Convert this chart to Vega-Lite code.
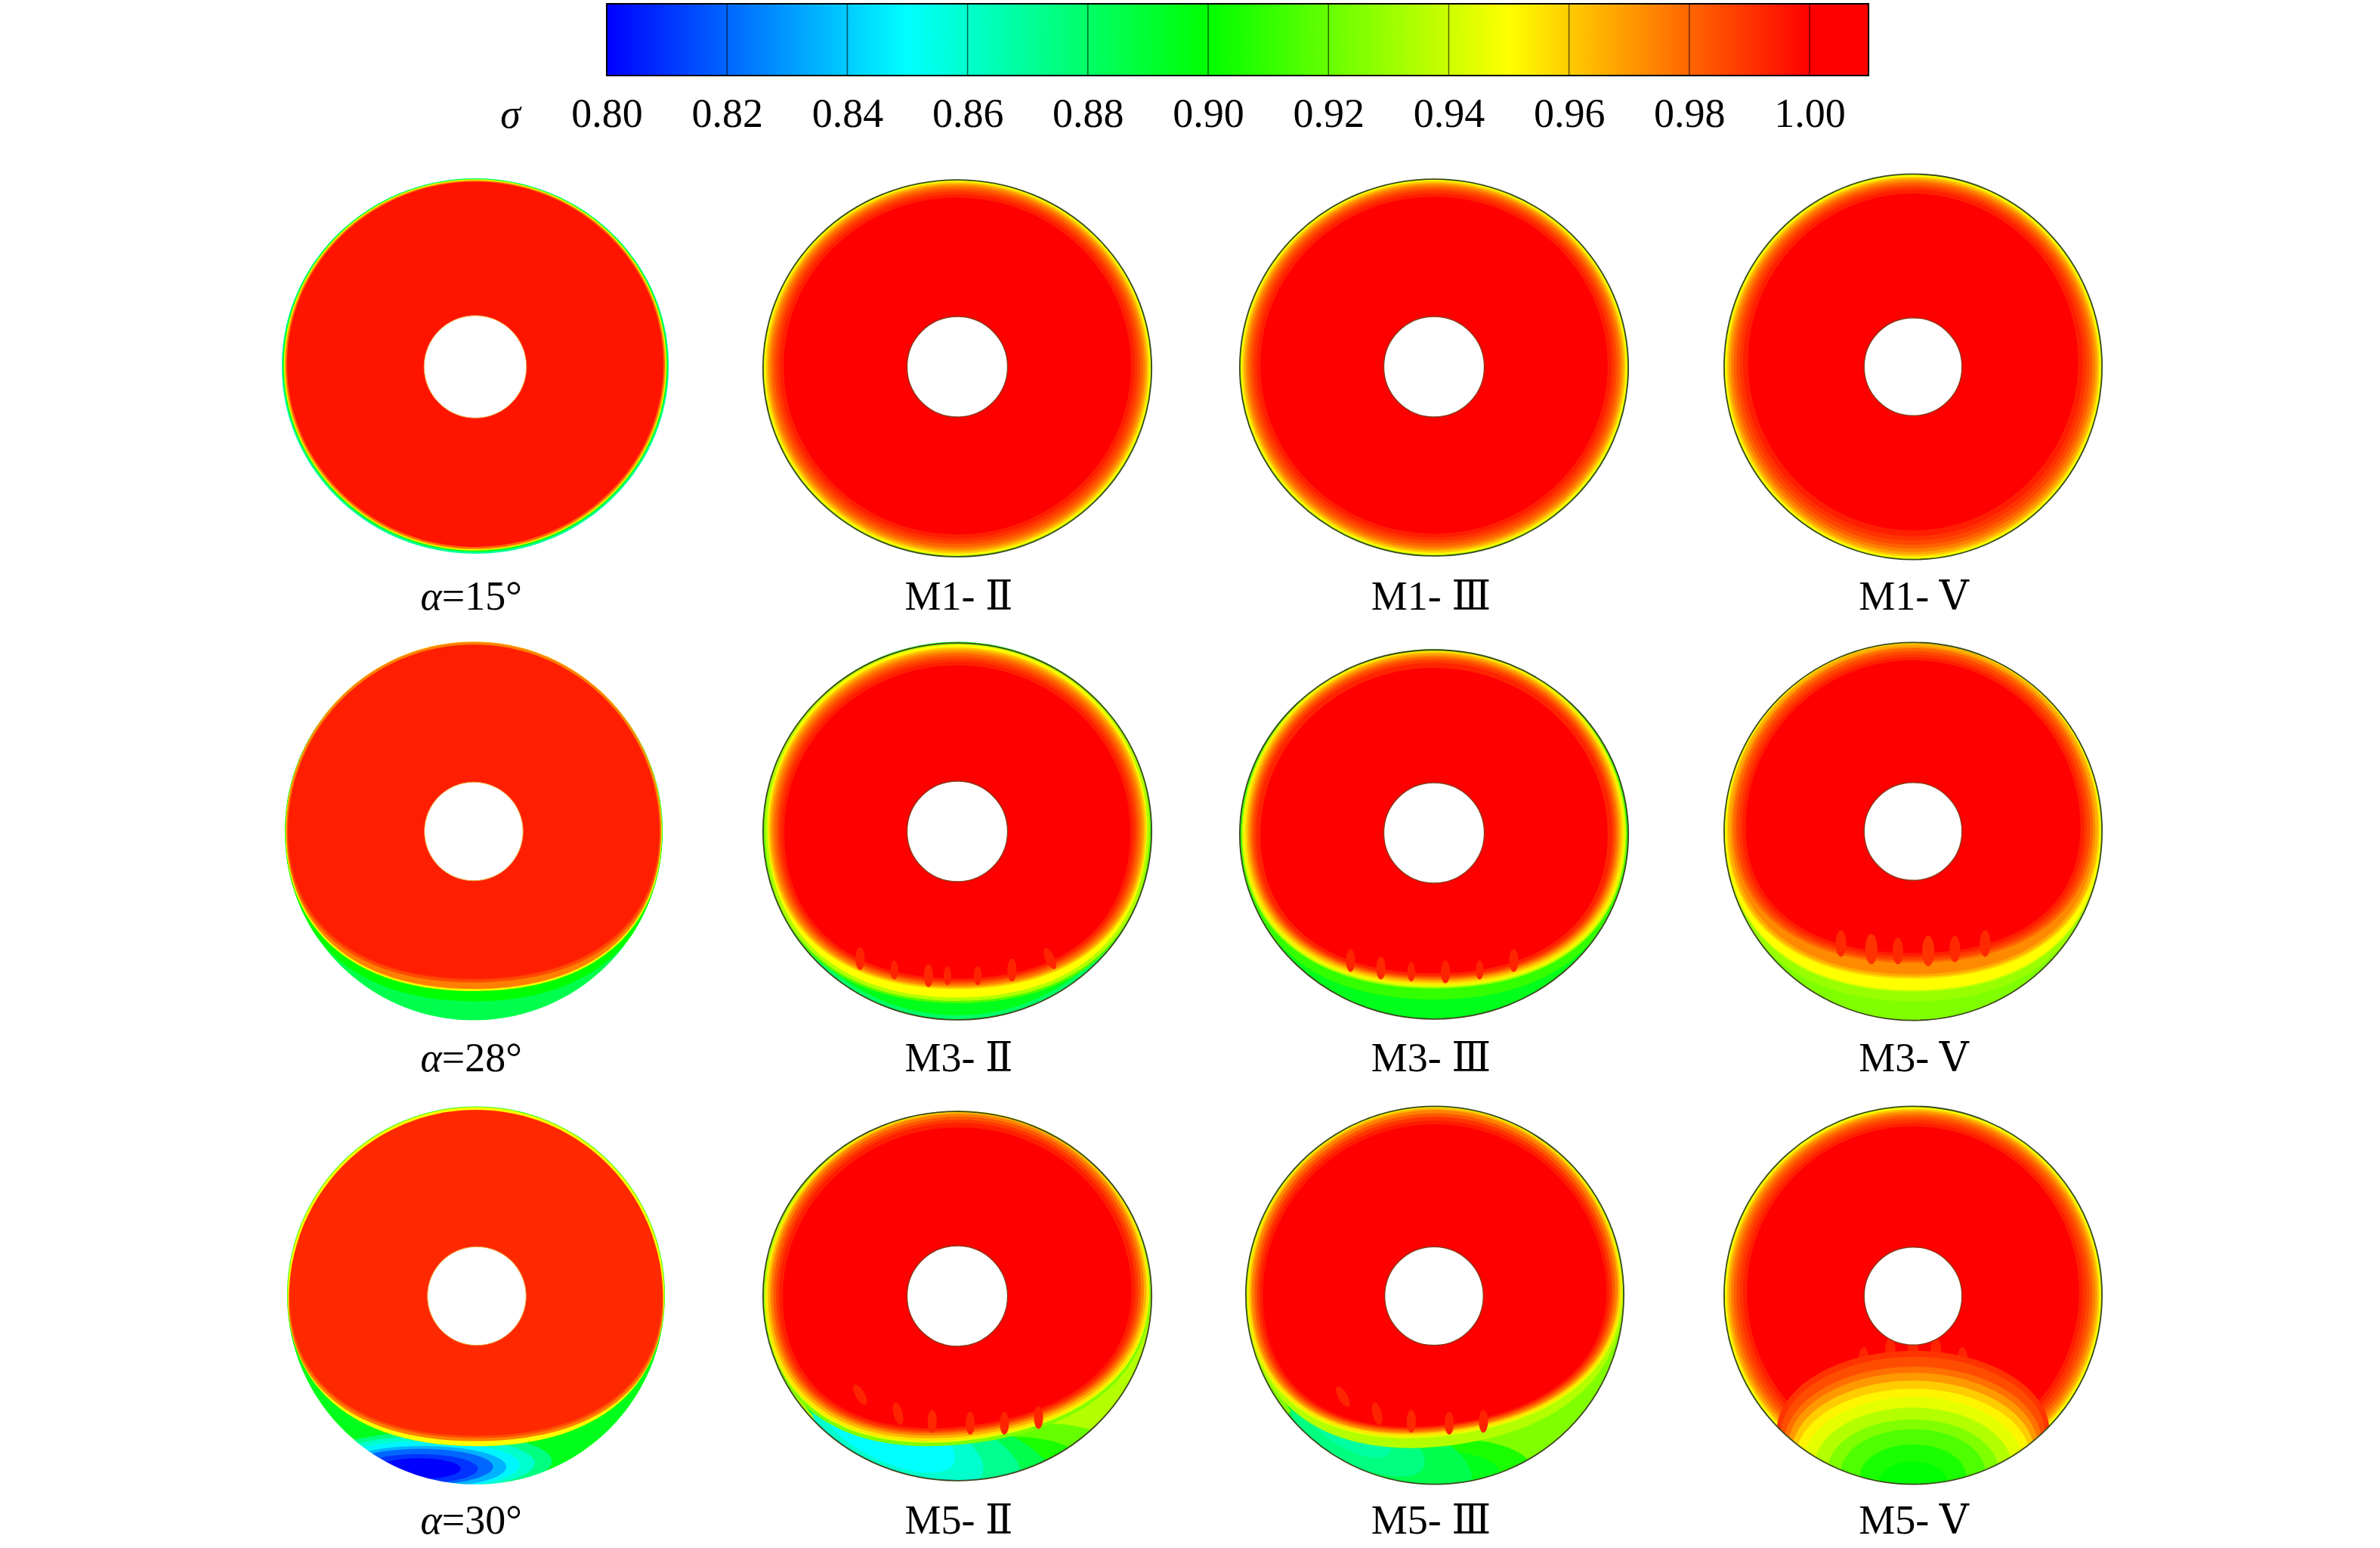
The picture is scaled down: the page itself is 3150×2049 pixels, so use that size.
{
"$schema":"https://vega.github.io/schema/vega-lite/v6.json",
"padding":{"left":313,"top":4,"right":301,"bottom":2},
"background":"white",
"config":{"view":{"stroke":null}},
"spacing":78,
"bounds":"flush",
"datasets":{
"bar":[{"a":0.8,"b":1.0098}],
"ticks":[{"v":0.82},{"v":0.84},{"v":0.86},{"v":0.88},{"v":0.9},{"v":0.92},{"v":0.94},{"v":0.96},{"v":0.98},{"v":1.0}],
"sigma":[
{"p":1,"k":"c","x":-0.4,"y":0.4,"r":102,"q":"c","s":0.87},
{"p":1,"k":"c","x":-0.4,"y":0.8,"r":101.3,"q":"c","s":0.9},
{"p":1,"k":"c","x":-0.4,"y":1,"r":100.9,"q":"c","s":0.945},
{"p":1,"k":"c","x":-0.4,"y":1,"r":100.4,"q":"c","s":0.965},
{"p":1,"k":"c","x":-0.4,"y":1.1,"r":99.9,"q":"c","s":0.98},
{"p":1,"k":"c","x":-0.4,"y":1.3,"r":99.2,"q":"c","s":0.996},
{"p":1,"k":"j","x":-0.4,"y":0,"r":27,"q":"b"},
{"p":1,"k":"g","x":-18,"y":-121.6,"label":"=15°"},

{"p":2,"k":"c","x":1.2,"y":-0.8,"r":102.4,"q":"c","s":0.935},
{"p":2,"k":"c","x":1.2,"y":-0.6,"r":101.8,"q":"c","s":0.95},
{"p":2,"k":"c","x":1.2,"y":-0.5,"r":101,"q":"c","s":0.96},
{"p":2,"k":"c","x":1.2,"y":-0.4,"r":100,"q":"c","s":0.968},
{"p":2,"k":"c","x":1.2,"y":-0.3,"r":99,"q":"c","s":0.975},
{"p":2,"k":"c","x":1.2,"y":-0.2,"r":97.8,"q":"c","s":0.981},
{"p":2,"k":"c","x":1.2,"y":0,"r":96.4,"q":"c","s":0.986},
{"p":2,"k":"c","x":1.2,"y":0.2,"r":95,"q":"c","s":0.99},
{"p":2,"k":"c","x":1.2,"y":0.3,"r":93.5,"q":"c","s":0.994},
{"p":2,"k":"c","x":1.2,"y":0.4,"r":91.5,"q":"c","s":1.0},
{"p":2,"k":"o","x":1.2,"y":-0.8,"r":102.4,"q":"c"},
{"p":2,"k":"h","x":1.2,"y":0,"r":26.5,"q":"b"},
{"p":2,"k":"t","x":2,"y":-121.6,"label":"M1- Ⅱ"},

{"p":3,"k":"c","x":0,"y":-0.4,"r":102.4,"q":"c","s":0.935},
{"p":3,"k":"c","x":0,"y":-0.2,"r":101.8,"q":"c","s":0.95},
{"p":3,"k":"c","x":0,"y":-0.1,"r":101,"q":"c","s":0.96},
{"p":3,"k":"c","x":0,"y":0,"r":100,"q":"c","s":0.968},
{"p":3,"k":"c","x":0,"y":0.1,"r":99,"q":"c","s":0.975},
{"p":3,"k":"c","x":0,"y":0.2,"r":97.8,"q":"c","s":0.981},
{"p":3,"k":"c","x":0,"y":0.4,"r":96.4,"q":"c","s":0.986},
{"p":3,"k":"c","x":0,"y":0.6,"r":95,"q":"c","s":0.99},
{"p":3,"k":"c","x":0,"y":0.7,"r":93.5,"q":"c","s":0.994},
{"p":3,"k":"c","x":0,"y":0.8,"r":91.5,"q":"c","s":1.0},
{"p":3,"k":"o","x":0,"y":-0.4,"r":102.4,"q":"c"},
{"p":3,"k":"h","x":0,"y":0,"r":26.5,"q":"b"},
{"p":3,"k":"t","x":-1.6,"y":-121.6,"label":"M1- Ⅲ"},

{"p":4,"k":"c","x":0,"y":0,"r":99.6,"q":"a","s":0.94},
{"p":4,"k":"c","x":0,"y":0,"r":99,"q":"a","s":0.95},
{"p":4,"k":"c","x":0,"y":0.1,"r":98.2,"q":"a","s":0.96},
{"p":4,"k":"c","x":0,"y":0.2,"r":97.2,"q":"a","s":0.968},
{"p":4,"k":"c","x":0,"y":0.4,"r":96,"q":"a","s":0.975},
{"p":4,"k":"c","x":0,"y":0.7,"r":94.6,"q":"a","s":0.981},
{"p":4,"k":"c","x":0,"y":1,"r":93,"q":"a","s":0.986},
{"p":4,"k":"c","x":0,"y":1.5,"r":91.3,"q":"a","s":0.99},
{"p":4,"k":"c","x":0,"y":2,"r":89.5,"q":"a","s":0.994},
{"p":4,"k":"c","x":0,"y":2.5,"r":87,"q":"a","s":1.0},
{"p":4,"k":"o","x":0,"y":0,"r":99.6,"q":"a"},
{"p":4,"k":"h","x":0,"y":0,"r":25.8,"q":"b"},
{"p":4,"k":"t","x":0.4,"y":-121.6,"label":"M1- Ⅴ"},

{"p":5,"k":"c","x":-1.2,"y":0,"r":99.6,"q":"b","s":0.885},
{"p":5,"k":"c","x":-1.2,"y":0,"r":99.5,"q":"P90","s":0.9},
{"p":5,"k":"c","x":-1.2,"y":0.2,"r":99.3,"q":"P85","s":0.93},
{"p":5,"k":"c","x":-1.2,"y":0.3,"r":99.2,"q":"P85","s":0.95},
{"p":5,"k":"c","x":-1.2,"y":1,"r":99,"q":"P85","s":0.965},
{"p":5,"k":"c","x":-1.2,"y":1,"r":98.8,"q":"P85","s":0.975},
{"p":5,"k":"c","x":-1.2,"y":-1,"r":98.3,"q":"P80","s":0.985},
{"p":5,"k":"c","x":-1.2,"y":0.3,"r":98,"q":"P80","s":0.99},
{"p":5,"k":"c","x":-1.2,"y":0.7,"r":97.8,"q":"P80","s":0.994},
{"p":5,"k":"m","x":-1.2,"y":0,"r":99.7,"q":"Mb"},
{"p":5,"k":"j","x":-1.2,"y":0,"r":26,"q":"b"},
{"p":5,"k":"g","x":-18,"y":-120,"label":"=28°"},

{"p":6,"k":"c","x":1.2,"y":0,"r":102.4,"q":"c","s":0.88},
{"p":6,"k":"c","x":1.2,"y":1.5,"r":101.5,"q":"c","s":0.895},
{"p":6,"k":"c","x":1.2,"y":1.4,"r":102.2,"q":"Q90","s":0.915},
{"p":6,"k":"c","x":1.2,"y":2,"r":101.5,"q":"Q90","s":0.935},
{"p":6,"k":"c","x":1.2,"y":2.5,"r":100,"q":"Q90","s":0.95},
{"p":6,"k":"c","x":1.2,"y":1.5,"r":99.5,"q":"Q85","s":0.96},
{"p":6,"k":"c","x":1.2,"y":1.5,"r":98.5,"q":"Q85","s":0.968},
{"p":6,"k":"c","x":1.2,"y":1.3,"r":97.5,"q":"Q85","s":0.975},
{"p":6,"k":"c","x":1.2,"y":1.2,"r":96.3,"q":"Q85","s":0.981},
{"p":6,"k":"c","x":1.2,"y":1,"r":95,"q":"Q85","s":0.986},
{"p":6,"k":"c","x":1.2,"y":0.7,"r":94,"q":"Q85","s":0.99},
{"p":6,"k":"c","x":1.2,"y":0.4,"r":92.8,"q":"Q85","s":0.994},
{"p":6,"k":"c","x":1.2,"y":0,"r":91.2,"q":"Q85","s":1.0},
{"p":6,"k":"c","x":-50,"y":-67,"r":6,"q":"L4","a":90,"s":0.993},
{"p":6,"k":"c","x":-32,"y":-73,"r":5,"q":"L4","a":90,"s":0.993},
{"p":6,"k":"c","x":-14,"y":-76,"r":6,"q":"L4","a":90,"s":0.992},
{"p":6,"k":"c","x":-4,"y":-76,"r":5,"q":"L4","a":90,"s":0.993},
{"p":6,"k":"c","x":12,"y":-76,"r":5,"q":"L4","a":90,"s":0.993},
{"p":6,"k":"c","x":30,"y":-73,"r":6,"q":"L4","a":90,"s":0.993},
{"p":6,"k":"c","x":50,"y":-67,"r":6,"q":"L4","a":65,"s":0.993},
{"p":6,"k":"m","x":1.2,"y":0,"r":102.5,"q":"Mc"},
{"p":6,"k":"o","x":1.2,"y":0,"r":102.4,"q":"c"},
{"p":6,"k":"h","x":1.2,"y":0,"r":26.5,"q":"b"},
{"p":6,"k":"t","x":2,"y":-120,"label":"M3- Ⅱ"},

{"p":7,"k":"c","x":0,"y":-1.6,"r":102.4,"q":"d","s":0.895},
{"p":7,"k":"c","x":0,"y":-1.9,"r":102,"q":"Q85","s":0.91},
{"p":7,"k":"c","x":0,"y":-1.6,"r":101.5,"q":"Q80","s":0.93},
{"p":7,"k":"c","x":0,"y":-1.2,"r":101,"q":"Q80","s":0.945},
{"p":7,"k":"c","x":0,"y":-0.8,"r":100,"q":"Q80","s":0.955},
{"p":7,"k":"c","x":0,"y":-0.6,"r":99,"q":"Q80","s":0.963},
{"p":7,"k":"c","x":0,"y":-0.4,"r":98,"q":"Q80","s":0.97},
{"p":7,"k":"c","x":0,"y":-0.5,"r":97,"q":"Q80","s":0.977},
{"p":7,"k":"c","x":0,"y":-0.6,"r":96,"q":"Q80","s":0.983},
{"p":7,"k":"c","x":0,"y":-0.8,"r":95,"q":"Q80","s":0.988},
{"p":7,"k":"c","x":0,"y":-1.1,"r":93.8,"q":"Q80","s":0.993},
{"p":7,"k":"c","x":0,"y":-1.6,"r":91.5,"q":"Q80","s":1.0},
{"p":7,"k":"c","x":-44,"y":-68,"r":6,"q":"L4","a":90,"s":0.993},
{"p":7,"k":"c","x":-28,"y":-72,"r":6,"q":"L4","a":90,"s":0.992},
{"p":7,"k":"c","x":-12,"y":-74,"r":5,"q":"L4","a":90,"s":0.993},
{"p":7,"k":"c","x":6,"y":-74,"r":6,"q":"L4","a":90,"s":0.993},
{"p":7,"k":"c","x":24,"y":-73,"r":5,"q":"L4","a":90,"s":0.993},
{"p":7,"k":"c","x":42,"y":-68,"r":6,"q":"L4","a":90,"s":0.993},
{"p":7,"k":"m","x":0,"y":-1.6,"r":102.5,"q":"Md"},
{"p":7,"k":"o","x":0,"y":-1.6,"r":102.4,"q":"d"},
{"p":7,"k":"h","x":0,"y":-0.8,"r":26.5,"q":"b"},
{"p":7,"k":"t","x":-1.6,"y":-120,"label":"M3- Ⅲ"},

{"p":8,"k":"c","x":0,"y":0,"r":99.6,"q":"b","s":0.925},
{"p":8,"k":"c","x":0,"y":0,"r":99.5,"q":"P90","s":0.93},
{"p":8,"k":"c","x":0,"y":0.1,"r":99.4,"q":"P85","s":0.94},
{"p":8,"k":"c","x":0,"y":0.6,"r":99,"q":"P85","s":0.95},
{"p":8,"k":"c","x":0,"y":1,"r":98.3,"q":"P80","s":0.958},
{"p":8,"k":"c","x":0,"y":1.4,"r":97.5,"q":"P80","s":0.966},
{"p":8,"k":"c","x":0,"y":1.5,"r":96,"q":"P80","s":0.973},
{"p":8,"k":"c","x":0,"y":1.8,"r":94.8,"q":"P75","s":0.98},
{"p":8,"k":"c","x":0,"y":1.8,"r":93.2,"q":"P75","s":0.986},
{"p":8,"k":"c","x":0,"y":1.8,"r":91.5,"q":"P75","s":0.99},
{"p":8,"k":"c","x":0,"y":1.8,"r":90,"q":"P75","s":0.994},
{"p":8,"k":"c","x":0,"y":2,"r":88.2,"q":"P75","s":1.0},
{"p":8,"k":"c","x":-38,"y":-59,"r":7,"q":"L4","a":90,"s":0.992},
{"p":8,"k":"c","x":-22,"y":-62,"r":8,"q":"L4","a":90,"s":0.99},
{"p":8,"k":"c","x":-8,"y":-63,"r":7,"q":"L4","a":90,"s":0.992},
{"p":8,"k":"c","x":8,"y":-63,"r":8,"q":"L4","a":90,"s":0.99},
{"p":8,"k":"c","x":22,"y":-62,"r":7,"q":"L4","a":90,"s":0.992},
{"p":8,"k":"c","x":38,"y":-59,"r":7,"q":"L4","a":90,"s":0.992},
{"p":8,"k":"m","x":0,"y":0,"r":99.7,"q":"Mb"},
{"p":8,"k":"o","x":0,"y":0,"r":99.6,"q":"b"},
{"p":8,"k":"h","x":0,"y":0,"r":25.8,"q":"b"},
{"p":8,"k":"t","x":0.4,"y":-120,"label":"M3- Ⅴ"},

{"p":9,"k":"c","x":0,"y":0.4,"r":99.6,"q":"b","s":0.895},
{"p":9,"k":"c","x":-22,"y":-87,"r":62,"q":"L25","s":0.875},
{"p":9,"k":"c","x":-25,"y":-88,"r":56,"q":"L25","s":0.86},
{"p":9,"k":"c","x":-27,"y":-89,"r":50,"q":"L25","s":0.848},
{"p":9,"k":"c","x":-28,"y":-90,"r":44,"q":"L25","s":0.835},
{"p":9,"k":"c","x":-29,"y":-90,"r":38,"q":"L25","s":0.82},
{"p":9,"k":"c","x":-30,"y":-91,"r":31,"q":"L25","s":0.81},
{"p":9,"k":"c","x":-30,"y":-91,"r":22,"q":"L25","s":0.8},
{"p":9,"k":"c","x":0,"y":0.4,"r":99.4,"q":"P80","s":0.93},
{"p":9,"k":"c","x":0,"y":0.3,"r":99.2,"q":"P80","s":0.95},
{"p":9,"k":"c","x":0,"y":-2.4,"r":98.8,"q":"P75","s":0.975},
{"p":9,"k":"c","x":0,"y":-1,"r":98.5,"q":"P75","s":0.985},
{"p":9,"k":"c","x":0,"y":0,"r":98.2,"q":"P75","s":0.992},
{"p":9,"k":"m","x":0,"y":0.4,"r":99.7,"q":"Mb"},
{"p":9,"k":"j","x":0.4,"y":0,"r":26,"q":"b"},
{"p":9,"k":"g","x":-18,"y":-119,"label":"=30°"},

{"p":10,"k":"c","x":1.2,"y":0,"r":102.4,"q":"d","s":0.935},
{"p":10,"k":"c","x":-72,"y":-45,"r":25,"q":"L4","a":55,"s":0.905},
{"p":10,"k":"c","x":-62,"y":-58,"r":32,"q":"L4","a":45,"s":0.885},
{"p":10,"k":"c","x":45,"y":-85,"r":45,"q":"L4","s":0.92},
{"p":10,"k":"c","x":30,"y":-90,"r":40,"q":"L4","s":0.905},
{"p":10,"k":"c","x":22,"y":-92,"r":30,"q":"L4","s":0.895},
{"p":10,"k":"c","x":-5,"y":-85,"r":58,"q":"L4","a":14,"s":0.885},
{"p":10,"k":"c","x":-18,"y":-80,"r":55,"q":"L4","a":18,"s":0.872},
{"p":10,"k":"c","x":-30,"y":-76,"r":48,"q":"L4","a":22,"s":0.86},
{"p":10,"k":"c","x":-35,"y":-72,"r":38,"q":"L4","a":25,"s":0.85},
{"p":10,"k":"c","x":1.2,"y":-1.5,"r":102,"q":"Q75","a":-8,"s":0.925},
{"p":10,"k":"c","x":1.2,"y":0,"r":101.5,"q":"Q75","a":-8,"s":0.945},
{"p":10,"k":"c","x":1.2,"y":0.5,"r":101,"q":"Q75","a":-8,"s":0.955},
{"p":10,"k":"c","x":1.2,"y":1,"r":99.8,"q":"Q75","a":-8,"s":0.965},
{"p":10,"k":"c","x":1.2,"y":1.5,"r":98.5,"q":"Q75","a":-8,"s":0.975},
{"p":10,"k":"c","x":1.2,"y":1.5,"r":97,"q":"Q75","a":-8,"s":0.983},
{"p":10,"k":"c","x":1.2,"y":1.2,"r":95.5,"q":"Q75","a":-8,"s":0.989},
{"p":10,"k":"c","x":1.2,"y":1,"r":94,"q":"Q75","a":-8,"s":0.994},
{"p":10,"k":"c","x":1.2,"y":0.5,"r":92,"q":"Q75","a":-8,"s":1.0},
{"p":10,"k":"c","x":-50,"y":-52,"r":6,"q":"L4","a":60,"s":0.993},
{"p":10,"k":"c","x":-30,"y":-62,"r":6,"q":"L4","a":75,"s":0.993},
{"p":10,"k":"c","x":-12,"y":-66,"r":6,"q":"L4","a":90,"s":0.992},
{"p":10,"k":"c","x":8,"y":-67,"r":6,"q":"L4","a":90,"s":0.993},
{"p":10,"k":"c","x":26,"y":-67,"r":6,"q":"L4","a":90,"s":0.993},
{"p":10,"k":"c","x":44,"y":-64,"r":6,"q":"L4","a":90,"s":0.993},
{"p":10,"k":"m","x":1.2,"y":0,"r":102.5,"q":"Md"},
{"p":10,"k":"o","x":1.2,"y":0,"r":102.4,"q":"d"},
{"p":10,"k":"h","x":1.2,"y":0,"r":26.5,"q":"b"},
{"p":10,"k":"t","x":2,"y":-119,"label":"M5- Ⅱ"},

{"p":11,"k":"c","x":0.4,"y":0.4,"r":99.6,"q":"b","s":0.925},
{"p":11,"k":"c","x":-72,"y":-45,"r":22,"q":"L4","a":55,"s":0.91},
{"p":11,"k":"c","x":-60,"y":-60,"r":30,"q":"L4","a":45,"s":0.89},
{"p":11,"k":"c","x":10,"y":-92,"r":42,"q":"L4","s":0.905},
{"p":11,"k":"c","x":5,"y":-94,"r":30,"q":"L4","s":0.895},
{"p":11,"k":"c","x":-30,"y":-82,"r":52,"q":"L4","a":18,"s":0.885},
{"p":11,"k":"c","x":-40,"y":-74,"r":38,"q":"L4","a":25,"s":0.875},
{"p":11,"k":"c","x":-45,"y":-70,"r":25,"q":"L4","a":30,"s":0.868},
{"p":11,"k":"c","x":0.4,"y":0.4,"r":99.4,"q":"P80","a":-8,"s":0.935},
{"p":11,"k":"c","x":0.4,"y":0.5,"r":99,"q":"P75","a":-8,"s":0.945},
{"p":11,"k":"c","x":0.4,"y":1,"r":98.6,"q":"P75","a":-8,"s":0.955},
{"p":11,"k":"c","x":0.4,"y":1.5,"r":97.5,"q":"P75","a":-8,"s":0.965},
{"p":11,"k":"c","x":0.4,"y":1.5,"r":96.5,"q":"P75","a":-8,"s":0.975},
{"p":11,"k":"c","x":0.4,"y":1.3,"r":95,"q":"P75","a":-8,"s":0.983},
{"p":11,"k":"c","x":0.4,"y":1,"r":93.5,"q":"P75","a":-8,"s":0.99},
{"p":11,"k":"c","x":0.4,"y":0.5,"r":92,"q":"P75","a":-8,"s":0.995},
{"p":11,"k":"c","x":0.4,"y":0,"r":90.5,"q":"P75","a":-8,"s":1.0},
{"p":11,"k":"c","x":-48,"y":-53,"r":6,"q":"L4","a":60,"s":0.993},
{"p":11,"k":"c","x":-30,"y":-62,"r":6,"q":"L4","a":75,"s":0.993},
{"p":11,"k":"c","x":-12,"y":-66,"r":6,"q":"L4","a":90,"s":0.992},
{"p":11,"k":"c","x":8,"y":-67,"r":6,"q":"L4","a":90,"s":0.993},
{"p":11,"k":"c","x":26,"y":-66,"r":6,"q":"L4","a":90,"s":0.993},
{"p":11,"k":"m","x":0.4,"y":0.4,"r":99.7,"q":"Mb"},
{"p":11,"k":"o","x":0.4,"y":0.4,"r":99.6,"q":"b"},
{"p":11,"k":"h","x":0,"y":0,"r":26,"q":"b"},
{"p":11,"k":"t","x":-1.6,"y":-119,"label":"M5- Ⅲ"},

{"p":12,"k":"c","x":0,"y":0.4,"r":99.6,"q":"b","s":0.94},
{"p":12,"k":"c","x":0,"y":0.4,"r":99,"q":"b","s":0.95},
{"p":12,"k":"c","x":0,"y":0.5,"r":98.2,"q":"b","s":0.96},
{"p":12,"k":"c","x":0,"y":0.6,"r":97.2,"q":"b","s":0.968},
{"p":12,"k":"c","x":0,"y":0.8,"r":96,"q":"b","s":0.975},
{"p":12,"k":"c","x":0,"y":1,"r":94.6,"q":"b","s":0.981},
{"p":12,"k":"c","x":0,"y":1.2,"r":93,"q":"b","s":0.986},
{"p":12,"k":"c","x":0,"y":1.5,"r":91.3,"q":"b","s":0.99},
{"p":12,"k":"c","x":0,"y":1.7,"r":89.5,"q":"b","s":0.994},
{"p":12,"k":"c","x":0,"y":1.9,"r":87.5,"q":"b","s":1.0},
{"p":12,"k":"c","x":-26,"y":-34,"r":7,"q":"L4","a":90,"s":0.993},
{"p":12,"k":"c","x":-12,"y":-29,"r":7,"q":"L4","a":90,"s":0.993},
{"p":12,"k":"c","x":0,"y":-28,"r":7,"q":"L4","a":90,"s":0.993},
{"p":12,"k":"c","x":12,"y":-29,"r":7,"q":"L4","a":90,"s":0.993},
{"p":12,"k":"c","x":26,"y":-34,"r":7,"q":"L4","a":90,"s":0.993},
{"p":12,"k":"c","x":0,"y":-72,"r":72,"q":"L6","s":0.99},
{"p":12,"k":"c","x":0,"y":-74,"r":70,"q":"L6","s":0.985},
{"p":12,"k":"c","x":0,"y":-78,"r":68,"q":"L6","s":0.978},
{"p":12,"k":"c","x":0,"y":-80,"r":66,"q":"L6","s":0.97},
{"p":12,"k":"c","x":0,"y":-83,"r":64,"q":"L6","s":0.96},
{"p":12,"k":"c","x":0,"y":-86,"r":62,"q":"L6","s":0.952},
{"p":12,"k":"c","x":0,"y":-88,"r":58,"q":"L6","s":0.945},
{"p":12,"k":"c","x":0,"y":-90,"r":52,"q":"L6","s":0.935},
{"p":12,"k":"c","x":0,"y":-92,"r":45,"q":"L6","s":0.925},
{"p":12,"k":"c","x":0,"y":-93,"r":38,"q":"L6","s":0.915},
{"p":12,"k":"c","x":0,"y":-95,"r":28,"q":"L6","s":0.905},
{"p":12,"k":"c","x":0,"y":-98,"r":18,"q":"L6","s":0.9},
{"p":12,"k":"m","x":0,"y":0.4,"r":99.7,"q":"Mb"},
{"p":12,"k":"o","x":0,"y":0.4,"r":99.6,"q":"b"},
{"p":12,"k":"h","x":0,"y":0,"r":25.8,"q":"b"},
{"p":12,"k":"t","x":0.4,"y":-119,"label":"M5- Ⅴ"}
]
},
"vconcat":[
{
"width":2536,
"height":95,
"layer":[
{
"data":{"name":"bar"},
"mark":{"type":"rect","stroke":"#000000","strokeWidth":2,"fill":{"gradient":"linear","x1":0,"y1":0,"x2":1,"y2":0,"stops":[
{"offset":0,"color":"#0000ff"},{"offset":0.2383,"color":"#00ffff"},{"offset":0.4766,"color":"#00ff00"},{"offset":0.715,"color":"#ffff00"},{"offset":0.9533,"color":"#ff0000"},{"offset":1,"color":"#ff0000"}]}},
"encoding":{
"x":{"field":"a","type":"quantitative","scale":{"domain":[0.73844,1.05703],"nice":false,"zero":false},
"axis":{"values":[0.8,0.82,0.84,0.86,0.88,0.9,0.92,0.94,0.96,0.98,1.0],"format":".2f","grid":false,"domain":false,"ticks":false,"labelFont":"Liberation Serif","labelFontSize":54,"labelColor":"#000000","labelPadding":24,"labelOverlap":false,"labelFlush":false,
"title":"σ","titleFont":"Liberation Serif","titleFontSize":54,"titleFontStyle":"italic","titleFontWeight":"normal","titleColor":"#000000","titleX":362,"titleY":52,"titleBaseline":"middle"}},
"x2":{"field":"b"}
}
},
{
"data":{"name":"ticks"},
"mark":{"type":"rule","stroke":"#000000","strokeWidth":1.5,"opacity":0.6},
"encoding":{"x":{"field":"v","type":"quantitative"}}
}
]
},
{
"data":{"name":"sigma"},
"facet":{"field":"p","type":"ordinal","header":{"labels":false,"title":null,"labelExpr":"''"}},
"columns":4,
"spacing":0,
"bounds":"flush",
"spec":{
"width":634,
"height":615,
"layer":[
{
"encoding":{
"x":{"field":"x","type":"quantitative","axis":null,"scale":{"domain":[-126.2,126.2],"nice":false,"zero":false}},
"y":{"field":"y","type":"quantitative","axis":null,"scale":{"domain":[-122.4,122.4],"nice":false,"zero":false}},
"size":{"field":"r","type":"quantitative","legend":null,"scale":{"type":"pow","exponent":2,"domain":[0,100],"range":[0,252255]}},
"angle":{"field":"a","type":"quantitative","scale":null},
"shape":{"field":"q","type":"nominal","legend":null,"scale":{
"domain":["a","b","c","d","P90","P85","P80","P75","Q90","Q85","Q80","Q75","L6","L4","L25","Mb","Mc","Md"],
"range":[
"M1 0 C1 0.561 0.55 1.02 0 1.02 C-0.55 1.02 -1 0.561 -1 0 C-1 -0.561 -0.55 -1.02 0 -1.02 C0.55 -1.02 1 -0.561 1 0Z",
"M1 0 C1 0.5523 0.5523 1 0 1 C-0.5523 1 -1 0.5523 -1 0 C-1 -0.5523 -0.5523 -1 0 -1 C0.5523 -1 1 -0.5523 1 0Z",
"M1 0 C1 0.5357 0.5523 0.97 0 0.97 C-0.5523 0.97 -1 0.5357 -1 0 C-1 -0.5357 -0.5523 -0.97 0 -0.97 C0.5523 -0.97 1 -0.5357 1 0Z",
"M1 0 C1 0.5247 0.5523 0.95 0 0.95 C-0.5523 0.95 -1 0.5247 -1 0 C-1 -0.5247 -0.5523 -0.95 0 -0.95 C0.5523 -0.95 1 -0.5247 1 0Z",
"M1 0 C1 -0.5523 0.5523 -1 0 -1 C-0.5523 -1 -1 -0.5523 -1 0 C-1 0.567 -0.63 0.9 0 0.9 C0.63 0.9 1 0.567 1 0Z",
"M1 0 C1 -0.5523 0.5523 -1 0 -1 C-0.5523 -1 -1 -0.5523 -1 0 C-1 0.5355 -0.63 0.85 0 0.85 C0.63 0.85 1 0.5355 1 0Z",
"M1 0 C1 -0.5523 0.5523 -1 0 -1 C-0.5523 -1 -1 -0.5523 -1 0 C-1 0.504 -0.63 0.8 0 0.8 C0.63 0.8 1 0.504 1 0Z",
"M1 0 C1 -0.5523 0.5523 -1 0 -1 C-0.5523 -1 -1 -0.5523 -1 0 C-1 0.4725 -0.63 0.75 0 0.75 C0.63 0.75 1 0.4725 1 0Z",
"M1 0 C1 -0.53 0.5523 -0.96 0 -0.96 C-0.5523 -0.96 -1 -0.53 -1 0 C-1 0.567 -0.63 0.9 0 0.9 C0.63 0.9 1 0.567 1 0Z",
"M1 0 C1 -0.53 0.5523 -0.96 0 -0.96 C-0.5523 -0.96 -1 -0.53 -1 0 C-1 0.5355 -0.63 0.85 0 0.85 C0.63 0.85 1 0.5355 1 0Z",
"M1 0 C1 -0.53 0.5523 -0.96 0 -0.96 C-0.5523 -0.96 -1 -0.53 -1 0 C-1 0.504 -0.63 0.8 0 0.8 C0.63 0.8 1 0.504 1 0Z",
"M1 0 C1 -0.53 0.5523 -0.96 0 -0.96 C-0.5523 -0.96 -1 -0.53 -1 0 C-1 0.4725 -0.63 0.75 0 0.75 C0.63 0.75 1 0.4725 1 0Z",
"M1 0 C1 0.3314 0.5523 0.6 0 0.6 C-0.5523 0.6 -1 0.3314 -1 0 C-1 -0.3314 -0.5523 -0.6 0 -0.6 C0.5523 -0.6 1 -0.3314 1 0Z",
"M1 0 C1 0.2209 0.5523 0.4 0 0.4 C-0.5523 0.4 -1 0.2209 -1 0 C-1 -0.2209 -0.5523 -0.4 0 -0.4 C0.5523 -0.4 1 -0.2209 1 0Z",
"M1 0 C1 0.1381 0.5523 0.25 0 0.25 C-0.5523 0.25 -1 0.1381 -1 0 C-1 -0.1381 -0.5523 -0.25 0 -0.25 C0.5523 -0.25 1 -0.1381 1 0Z",
"M-1.25 0 L-1 0 C-1 0.5523 -0.5523 1 0 1 C0.5523 1 1 0.5523 1 0 L1.25 0 L1.25 1.33 L-1.25 1.33Z",
"M-1.25 0 L-1 0 C-1 0.5357 -0.5523 0.97 0 0.97 C0.5523 0.97 1 0.5357 1 0 L1.25 0 L1.25 1.33 L-1.25 1.33Z",
"M-1.25 0 L-1 0 C-1 0.5247 -0.5523 0.95 0 0.95 C0.5523 0.95 1 0.5247 1 0 L1.25 0 L1.25 1.33 L-1.25 1.33Z"
]}}
},
"layer":[
{
"transform":[{"filter":"datum.k=='c'"}],
"mark":{"type":"point","filled":true,"opacity":1,"strokeWidth":0},
"encoding":{"color":{"field":"s","type":"quantitative","legend":null,"scale":{"domain":[0.8,0.85,0.9,0.95,1.0],"range":["#0000ff","#00ffff","#00ff00","#ffff00","#ff0000"],"interpolate":"rgb"}}}
},
{
"transform":[{"filter":"datum.k=='m'"}],
"mark":{"type":"point","filled":true,"opacity":1,"fill":"#ffffff","strokeWidth":0}
},
{
"transform":[{"filter":"datum.k=='o'"}],
"mark":{"type":"point","filled":false,"opacity":1,"stroke":"#3d4a1e","strokeWidth":1.8}
},
{
"transform":[{"filter":"datum.k=='h'"}],
"mark":{"type":"point","filled":true,"opacity":1,"fill":"#ffffff","stroke":"#8a3a1a","strokeWidth":1.4}
},
{
"transform":[{"filter":"datum.k=='j'"}],
"mark":{"type":"point","filled":true,"opacity":1,"fill":"#ffffff","stroke":"#e8a030","strokeWidth":1}
}
]
},
{
"transform":[{"filter":"datum.k=='t'"}],
"mark":{"type":"text","font":"Liberation Serif, DejaVu Serif","fontSize":54,"color":"#000000","baseline":"middle","align":"center"},
"encoding":{
"x":{"field":"x","type":"quantitative"},
"y":{"field":"y","type":"quantitative"},
"text":{"field":"label"}
}
},
{
"transform":[{"filter":"datum.k=='g'"}],
"mark":{"type":"text","font":"Liberation Serif","fontSize":54,"color":"#000000","baseline":"middle","align":"left"},
"encoding":{
"x":{"field":"x","type":"quantitative"},
"y":{"field":"y","type":"quantitative"},
"text":{"field":"label"}
}
},
{
"transform":[{"filter":"datum.k=='g'"}],
"mark":{"type":"text","font":"Liberation Serif","fontSize":54,"fontStyle":"italic","color":"#000000","baseline":"middle","align":"right"},
"encoding":{
"x":{"field":"x","type":"quantitative"},
"y":{"field":"y","type":"quantitative"},
"text":{"value":"α"}
}
}
]
}
}
]
}
